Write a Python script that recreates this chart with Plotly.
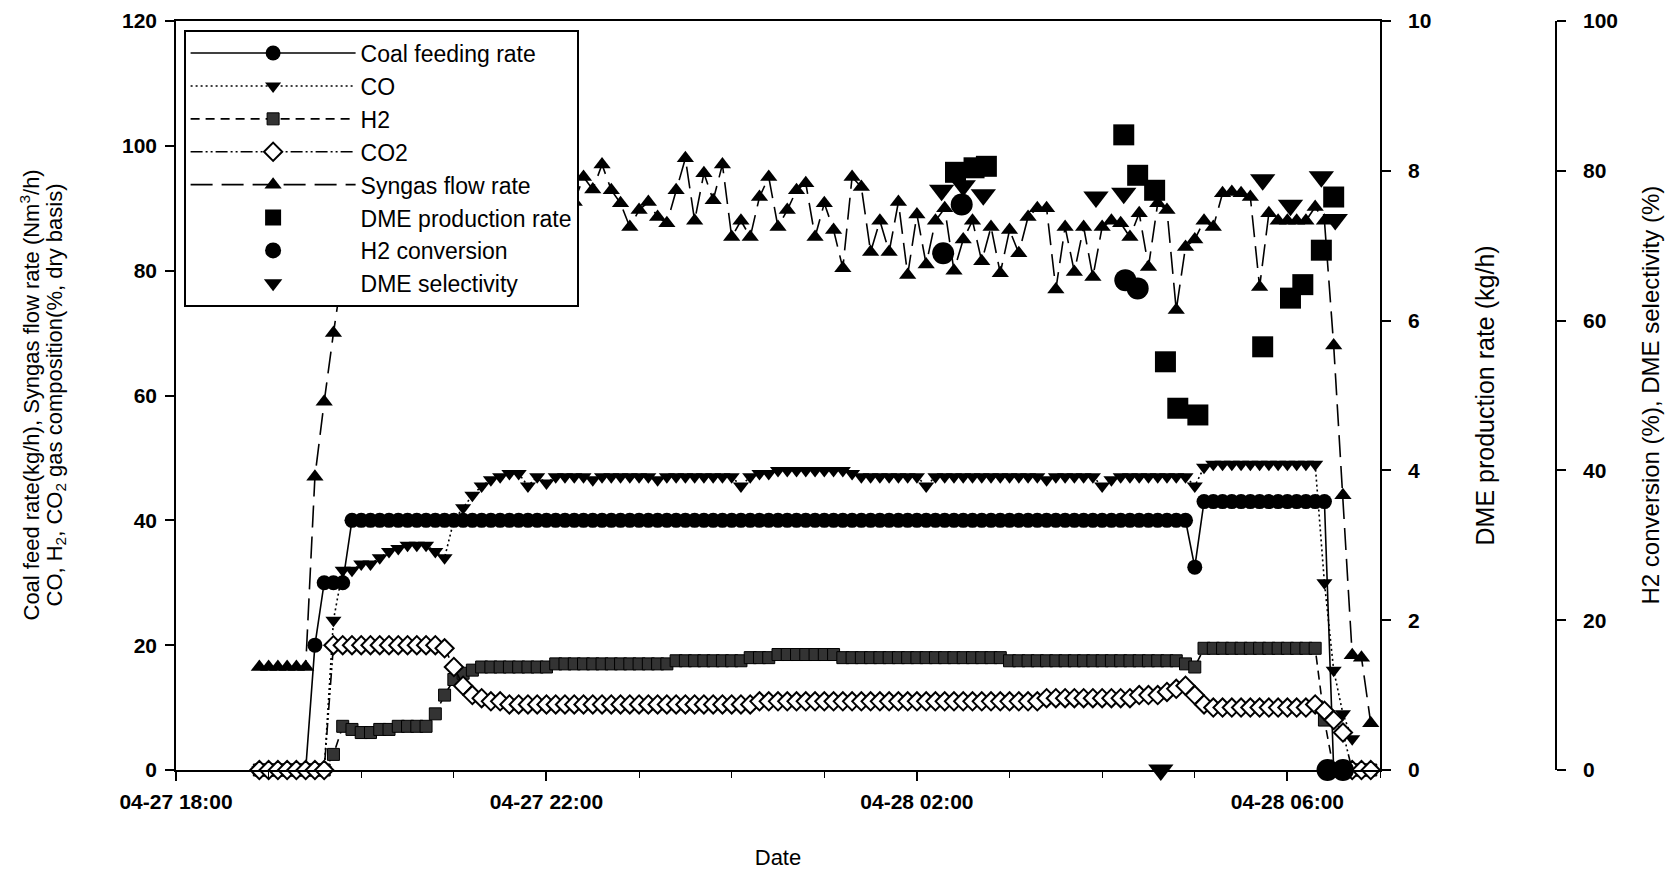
import pandas as pd
import plotly.graph_objects as go

# ---------------- data ----------------
# common sampling grid for the line series (6-min steps, 04-27 18:54 .. 04-28 06:54)
time_grid = pd.date_range("2008-04-27 18:54", periods=121, freq="6min")

coal_feed = [
    0, 0, 0, 0, 0, 0, 20, 30, 30, 30,
    40, 40, 40, 40, 40, 40, 40, 40, 40, 40,
    40, 40, 40, 40, 40, 40, 40, 40, 40, 40,
    40, 40, 40, 40, 40, 40, 40, 40, 40, 40,
    40, 40, 40, 40, 40, 40, 40, 40, 40, 40,
    40, 40, 40, 40, 40, 40, 40, 40, 40, 40,
    40, 40, 40, 40, 40, 40, 40, 40, 40, 40,
    40, 40, 40, 40, 40, 40, 40, 40, 40, 40,
    40, 40, 40, 40, 40, 40, 40, 40, 40, 40,
    40, 40, 40, 40, 40, 40, 40, 40, 40, 40,
    40, 32.5, 43, 43, 43, 43, 43, 43, 43, 43,
    43, 43, 43, 43, 43, 43, 0, 0, None, None,
    None,
]

co = [
    0, 0, 0, 0, 0, 0, 0, 0, 24, 32,
    32, 33, 33, 34, 35, 35.5, 36, 36, 36, 35,
    34, 40, 42, 44, 45.5, 46.5, 47, 47.5, 47.5, 45.5,
    47, 46, 47, 47, 47, 47, 46.5, 47, 47, 47,
    47, 47, 47, 46.5, 47, 47, 47, 47, 47, 47,
    47, 47, 45.5, 47, 47.5, 47.5, 48, 48, 48, 48,
    48, 48, 48, 48, 47.5, 47, 47, 47, 47, 47,
    47, 47, 45.5, 47, 47, 47, 47, 47, 47, 47,
    47, 47, 47, 47, 47, 46.5, 47, 47, 47, 47,
    47, 45.5, 46.5, 47, 47, 47, 47, 47, 47, 47,
    47, 45.5, 48.5, 49, 49, 49, 49, 49, 49, 49,
    49, 49, 49, 49, 49, 30, 16, 9, 5, None,
    None,
]

h2 = [
    0, 0, 0, 0, 0, 0, 0, 0, 2.5, 7,
    6.5, 6, 6, 6.5, 6.5, 7, 7, 7, 7, 9,
    12, 14.5, 15.5, 16, 16.5, 16.5, 16.5, 16.5, 16.5, 16.5,
    16.5, 16.5, 17, 17, 17, 17, 17, 17, 17, 17,
    17, 17, 17, 17, 17, 17.5, 17.5, 17.5, 17.5, 17.5,
    17.5, 17.5, 17.5, 18, 18, 18, 18.5, 18.5, 18.5, 18.5,
    18.5, 18.5, 18.5, 18, 18, 18, 18, 18, 18, 18,
    18, 18, 18, 18, 18, 18, 18, 18, 18, 18,
    18, 17.5, 17.5, 17.5, 17.5, 17.5, 17.5, 17.5, 17.5, 17.5,
    17.5, 17.5, 17.5, 17.5, 17.5, 17.5, 17.5, 17.5, 17.5, 17.5,
    17, 16.5, 19.5, 19.5, 19.5, 19.5, 19.5, 19.5, 19.5, 19.5,
    19.5, 19.5, 19.5, 19.5, 19.5, 8, 0, 0, 0, 0,
    0,
]

co2 = [
    0, 0, 0, 0, 0, 0, 0, 0, 20, 20,
    20, 20, 20, 20, 20, 20, 20, 20, 20, 20,
    19.5, 16.5, 13.5, 12, 11.5, 11, 11, 10.5, 10.5, 10.5,
    10.5, 10.5, 10.5, 10.5, 10.5, 10.5, 10.5, 10.5, 10.5, 10.5,
    10.5, 10.5, 10.5, 10.5, 10.5, 10.5, 10.5, 10.5, 10.5, 10.5,
    10.5, 10.5, 10.5, 10.5, 11, 11, 11, 11, 11, 11,
    11, 11, 11, 11, 11, 11, 11, 11, 11, 11,
    11, 11, 11, 11, 11, 11, 11, 11, 11, 11,
    11, 11, 11, 11, 11, 11.5, 11.5, 11.5, 11.5, 11.5,
    11.5, 11.5, 11.5, 11.5, 11.5, 12, 12, 12, 12.5, 13,
    13.5, 12, 10.5, 10, 10, 10, 10, 10, 10, 10,
    10, 10, 10, 10, 10.5, 9.5, 8, 6, 0, 0,
    0,
]

syngas = [
    16.5, 16.5, 16.5, 16.5, 16.5, 16.5, 47, 59, 70, 80,
    88, 92, 90, 94, 89, 93, 91, 95, 88, 92,
    90, 94, 89, 92, 96, 90, 93, 88, 91, 95,
    89, 92, 90, 94, 91, 95, 93, 97, 92.9, 90.8,
    87, 89.7, 91, 88.6, 87.6, 92.9, 98, 88, 95.6, 91.3,
    97, 85.4, 88, 85.4, 91.8, 95, 87, 89.7, 92.9, 94,
    85.4, 90.8, 86.5, 80.4, 95, 93.4, 83, 88, 83, 91,
    79.3, 89, 81, 88, 90, 80, 85, 88, 81.5, 87,
    79.6, 86.5, 82.8, 88.6, 90, 90, 77, 87, 79.8, 87,
    79, 87, 88, 87.6, 85.4, 89.2, 80.6, 90.8, 89.7, 73.7,
    83.8, 85, 88, 87, 92.4, 92.6, 92.4, 91.8, 77.4, 89.2,
    88, 88, 88, 88, 90.2, 88, 68, 44, 18.4, 18,
    7.5,
]

dme_prod_time = ["2008-04-28 02:25", "2008-04-28 02:37", "2008-04-28 02:45",
                 "2008-04-28 04:14", "2008-04-28 04:23", "2008-04-28 04:34",
                 "2008-04-28 04:41", "2008-04-28 04:49", "2008-04-28 05:02",
                 "2008-04-28 05:44", "2008-04-28 06:02", "2008-04-28 06:10",
                 "2008-04-28 06:22", "2008-04-28 06:30"]
dme_prod = [7.98, 8.04, 8.06, 8.48, 7.94, 7.74, 5.45, 4.83, 4.74, 5.65, 6.3, 6.48, 6.94, 7.65]

h2_conv_time = ["2008-04-28 02:17", "2008-04-28 02:29", "2008-04-28 04:15",
                "2008-04-28 04:23", "2008-04-28 06:26", "2008-04-28 06:36"]
h2_conv = [69, 75.5, 65.4, 64.3, 0, 0]

dme_sel_time = ["2008-04-28 02:16", "2008-04-28 02:30", "2008-04-28 02:43",
                "2008-04-28 03:56", "2008-04-28 04:14", "2008-04-28 04:38",
                "2008-04-28 05:44", "2008-04-28 06:02", "2008-04-28 06:22",
                "2008-04-28 06:31"]
dme_sel = [77.4, 78, 76.8, 76.5, 77, 0, 78.8, 75.4, 79.2, 73.5]

# ---------------- figure ----------------
FONT = "Liberation Sans, Arial, sans-serif"
# the page body has an 8px margin, so the figure is laid out 8px in from the window edge
W, H = 1661, 866
ML, MR, MT, MB = 168, 8, 13, 104
PW = W - ML - MR
PH = H - MT - MB
XEND = (1372 - ML) / PW
Y3POS = (1548 - ML) / PW


def px(xfig):
    return (xfig - ML) / PW


fig = go.Figure()

fig.add_trace(go.Scatter(
    x=time_grid, y=coal_feed, name="Coal feeding rate", mode="lines+markers",
    line=dict(color="black", width=1.6),
    marker=dict(symbol="circle", size=15, color="black"),
    cliponaxis=False))
fig.add_trace(go.Scatter(
    x=time_grid, y=co, name="CO", mode="lines+markers",
    line=dict(color="black", width=1.6, dash="2px,3px"),
    marker=dict(symbol="triangle-down", size=14, color="black"),
    cliponaxis=False))
fig.add_trace(go.Scatter(
    x=time_grid, y=h2, name="H2", mode="lines+markers",
    line=dict(color="black", width=1.6, dash="9px,6px"),
    marker=dict(symbol="square", size=12, color="#333333",
                line=dict(color="black", width=1)),
    cliponaxis=False))
fig.add_trace(go.Scatter(
    x=time_grid, y=co2, name="CO2", mode="lines+markers",
    line=dict(color="black", width=1.6, dash="12px,3px,2px,3px,2px,3px"),
    marker=dict(symbol="diamond", size=14, color="white",
                line=dict(color="black", width=2)),
    cliponaxis=False))
fig.add_trace(go.Scatter(
    x=time_grid, y=syngas, name="Syngas flow rate", mode="lines+markers",
    line=dict(color="black", width=1.6, dash="22px,9px"),
    marker=dict(symbol="triangle-up", size=15, color="black"),
    cliponaxis=False))
fig.add_trace(go.Scatter(
    x=dme_prod_time, y=dme_prod, name="DME production rate", mode="markers",
    marker=dict(symbol="square", size=21, color="black"),
    yaxis="y2", cliponaxis=False))
fig.add_trace(go.Scatter(
    x=h2_conv_time, y=h2_conv, name="H2 conversion", mode="markers",
    marker=dict(symbol="circle", size=22, color="black"),
    yaxis="y3", cliponaxis=False))
fig.add_trace(go.Scatter(
    x=dme_sel_time, y=dme_sel, name="DME selectivity", mode="markers",
    marker=dict(symbol="triangle-down", size=22, color="black"),
    yaxis="y3", cliponaxis=False))

tickfont = dict(family=FONT, size=21, color="black", weight="bold")
axis_common = dict(showline=True, linecolor="black", linewidth=1.6,
                   ticks="outside", ticklen=9, tickwidth=1.6, tickcolor="black",
                   showgrid=False, zeroline=False, tickfont=tickfont)

fig.update_layout(
    width=W, height=H,
    margin=dict(l=ML, r=MR, t=MT, b=MB, autoexpand=False),
    paper_bgcolor="white", plot_bgcolor="white",
    font=dict(family=FONT, color="black"),
    showlegend=True,
    legend=dict(x=px(184 - 8), y=(762 - 22) / PH,
                xanchor="left", yanchor="top",
                bgcolor="white", bordercolor="black", borderwidth=1.6,
                font=dict(family=FONT, size=23, color="black"),
                itemwidth=165, tracegroupgap=0,
                traceorder="normal"),
    xaxis=dict(axis_common, domain=[0, XEND], type="date",
               range=["2008-04-27 18:00", "2008-04-28 07:00"],
               tick0="2008-04-27 18:00", dtick=4 * 3600000,
               tickformat="%m-%d %H:%M", mirror=True,
               ticklabelstandoff=3,
               minor=dict(dtick=3600000, ticks="outside", ticklen=6,
                          tickwidth=1.3, tickcolor="black"),
               title=dict(text="Date", font=dict(family=FONT, size=22),
                          standoff=38)),
    yaxis=dict(axis_common, range=[0, 120], dtick=20, ticklabelstandoff=4),
    yaxis2=dict(axis_common, range=[0, 10], dtick=2, overlaying="y",
                side="right", anchor="x", ticklabelstandoff=13),
    yaxis3=dict(axis_common, range=[0, 100], dtick=20, overlaying="y",
                side="right", anchor="free", position=Y3POS,
                ticklabelstandoff=13),
)

fig.add_annotation(
    x=px(21), y=0.5, xref="paper", yref="paper",
    text="Coal feed rate(kg/h), Syngas flow rate (Nm<sup>3</sup>/h)",
    textangle=-90, showarrow=False,
    font=dict(family=FONT, size=22, color="black"),
    xanchor="center", yanchor="middle")
fig.add_annotation(
    x=px(47), y=0.5, xref="paper", yref="paper",
    text="CO, H<sub>2</sub>, CO<sub>2</sub> gas composition(%, dry basis)",
    textangle=-90, showarrow=False,
    font=dict(family=FONT, size=22, color="black"),
    xanchor="center", yanchor="middle")
fig.add_annotation(
    x=px(1476), y=0.5, xref="paper", yref="paper",
    text="DME production rate (kg/h)", textangle=-90, showarrow=False,
    font=dict(family=FONT, size=25, color="black"),
    xanchor="center", yanchor="middle")
fig.add_annotation(
    x=px(1642), y=0.5, xref="paper", yref="paper",
    text="H2 conversion (%), DME selectivity (%)", textangle=-90,
    showarrow=False, font=dict(family=FONT, size=24, color="black"),
    xanchor="center", yanchor="middle")

fig.write_html("out.html")
